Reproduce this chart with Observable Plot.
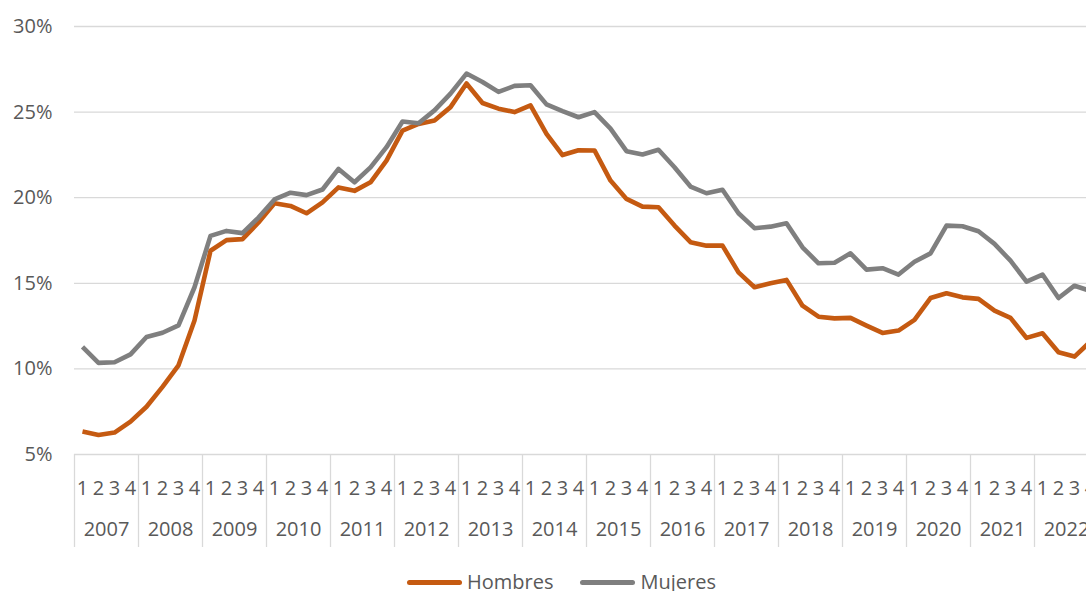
<!DOCTYPE html>
<html>
<head>
<meta charset="utf-8">
<script src="https://cdn.jsdelivr.net/npm/d3@7"></script>
<script src="https://cdn.jsdelivr.net/npm/@observablehq/plot@0.6"></script>
<style>
  html, body { margin: 0; padding: 0; background: #fff; overflow: hidden; }
  #chart { width: 1110px; }
  #chart svg { display: block; max-width: none !important; width: 1110px !important; height: 555px !important; }
  .legend { position: relative; display: flex; align-items: center; margin-top: 15px; padding-left: 407px;
            font-family: "Open Sans", sans-serif; font-size: 20px; line-height: 24px; color: #595959; }
  .legend .sw { width: 55px; height: 5px; border-radius: 3px; margin-right: 5px; }
  .legend .item { display: flex; align-items: center; margin-right: 27px; }
</style>
</head>
<body>
<div id="chart"></div>
<div class="legend" id="legend"></div>
<script>
const years = ["2007","2008","2009","2010","2011","2012","2013","2014","2015","2016","2017","2018","2019","2020","2021","2022"];
const quarterLabels = ["1","2","3","4"];
const yTicks = [5, 10, 15, 20, 25, 30];
const seriesNames = ["Hombres", "Mujeres"];
const seriesColors = ["#C55A11", "#7F7F7F"];

const hombres = [
  6.34, 6.14, 6.28, 6.92,
  7.79, 8.95, 10.21, 12.83,
  16.9, 17.52, 17.58, 18.55,
  19.67, 19.52, 19.09, 19.73,
  20.6, 20.4, 20.9, 22.17,
  23.92, 24.31, 24.51, 25.29,
  26.67, 25.53, 25.2, 25.0,
  25.39, 23.73, 22.49, 22.77,
  22.76, 21.0, 19.93, 19.48,
  19.44, 18.37, 17.4, 17.2,
  17.2, 15.64, 14.77, 15.0,
  15.2, 13.69, 13.05, 12.95,
  12.98, 12.53, 12.1, 12.24,
  12.86, 14.14, 14.42, 14.18,
  14.09, 13.4, 12.98, 11.81,
  12.08, 10.97, 10.72, 11.6
];
const mujeres = [
  11.28, 10.35, 10.39, 10.85,
  11.86, 12.11, 12.54, 14.77,
  17.77, 18.06, 17.93, 18.84,
  19.9, 20.29, 20.15, 20.48,
  21.68, 20.9, 21.77, 22.95,
  24.45, 24.35, 25.1, 26.08,
  27.25, 26.76, 26.18, 26.53,
  26.57, 25.45, 25.06, 24.7,
  25.0, 24.03, 22.72, 22.52,
  22.8, 21.78, 20.65, 20.26,
  20.46, 19.09, 18.22, 18.31,
  18.51, 17.1, 16.17, 16.2,
  16.75, 15.8, 15.88, 15.51,
  16.26, 16.75, 18.37, 18.33,
  18.04, 17.3, 16.32, 15.1,
  15.51, 14.14, 14.86, 14.55
];

const nQ = years.length * quarterLabels.length;
const rows = [];
[hombres, mujeres].forEach((vals, s) => {
  vals.forEach((v, i) => rows.push({i, v, serie: seriesNames[s]}));
});
const qIdx = d3.range(nQ);
const yearCenters = years.map((y, k) => k * 4 + 1.5);
const boundaries = d3.range(years.length + 1).map(k => k * 4 - 0.5);

const plot = Plot.plot({
  width: 1110,
  height: 555,
  marginLeft: 74,
  marginRight: 12,
  marginTop: 26,
  marginBottom: 101,
  style: {fontFamily: "'Open Sans', sans-serif", fontSize: "20px", color: "#595959", background: "#fff", maxWidth: "none"},
  x: {type: "linear", domain: [-0.5, nQ - 0.5], label: null},
  y: {domain: [5, 30], label: null},
  color: {domain: seriesNames, range: seriesColors},
  marks: [
    Plot.gridY(yTicks, {stroke: "#D9D9D9", strokeOpacity: 1, strokeWidth: 1.3}),
    Plot.axisX(boundaries, {tickSize: 93, stroke: "#D9D9D9", strokeWidth: 1.3, tickFormat: () => "", label: null}),
    Plot.axisX(qIdx, {tickSize: 0, tickPadding: 26, tickFormat: i => quarterLabels[i % 4], label: null}),
    Plot.axisX(yearCenters, {tickSize: 0, tickPadding: 67, tickFormat: d => years[Math.round((d - 1.5) / 4)], label: null}),
    Plot.axisY(yTicks, {tickSize: 0, tickPadding: 22, tickFormat: d => d + "%", label: null}),
    Plot.line(rows, {x: "i", y: "v", z: "serie", stroke: "serie", strokeWidth: 4.6, strokeLinejoin: "round", strokeLinecap: "butt"})
  ]
});
document.getElementById("chart").appendChild(plot);

const leg = document.getElementById("legend");
seriesNames.forEach((n, k) => {
  const item = document.createElement("div");
  item.className = "item";
  item.innerHTML = `<span class="sw" style="background:${seriesColors[k]}"></span><span>${n}</span>`;
  leg.appendChild(item);
});
</script>
</body>
</html>
